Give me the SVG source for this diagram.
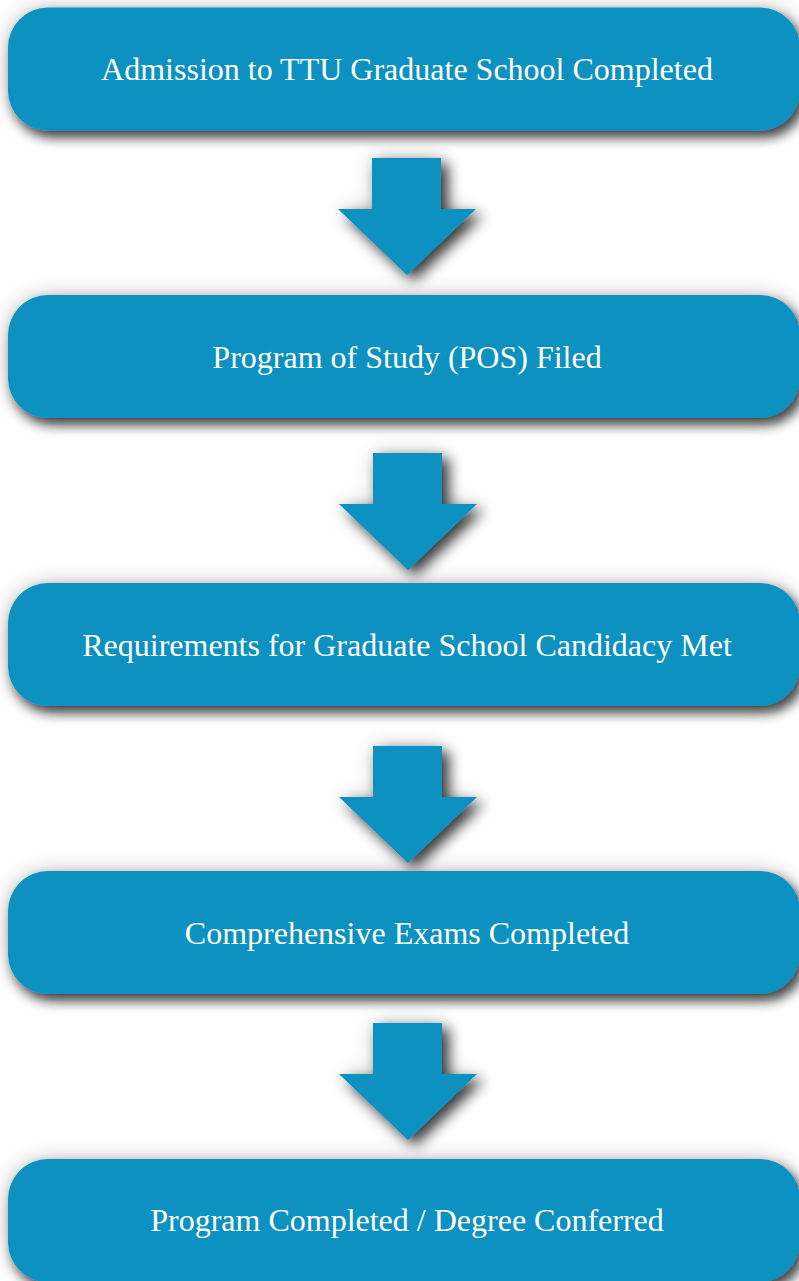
<svg xmlns="http://www.w3.org/2000/svg" width="799" height="1281" viewBox="0 0 799 1281">
  <defs>
    <filter id="shadow" x="-10%" y="-30%" width="125%" height="170%">
      <feGaussianBlur in="SourceAlpha" stdDeviation="6" result="b"/>
      <feOffset in="b" dx="5" dy="7" result="o"/>
      <feComponentTransfer in="o" result="s">
        <feFuncA type="linear" slope="0.7"/>
      </feComponentTransfer>
      <feGaussianBlur in="SourceAlpha" stdDeviation="10" result="g"/>
      <feComponentTransfer in="g" result="gs">
        <feFuncA type="linear" slope="0.25"/>
      </feComponentTransfer>
      <feMerge>
        <feMergeNode in="gs"/>
        <feMergeNode in="s"/>
        <feMergeNode in="SourceGraphic"/>
      </feMerge>
    </filter>
    <filter id="ashadow" x="-40%" y="-30%" width="190%" height="170%">
      <feGaussianBlur in="SourceAlpha" stdDeviation="7" result="b"/>
      <feOffset in="b" dx="7" dy="6" result="o"/>
      <feComponentTransfer in="o" result="s">
        <feFuncA type="linear" slope="0.75"/>
      </feComponentTransfer>
      <feGaussianBlur in="SourceAlpha" stdDeviation="10" result="g"/>
      <feComponentTransfer in="g" result="gs">
        <feFuncA type="linear" slope="0.2"/>
      </feComponentTransfer>
      <feMerge>
        <feMergeNode in="gs"/>
        <feMergeNode in="s"/>
        <feMergeNode in="SourceGraphic"/>
      </feMerge>
    </filter>
    <path id="arrow" d="M -35 0 L 34 0 L 34 51 L 69 51 L 0 117 L -69 51 L -35 51 Z"/>
  </defs>
  <style>
    .box { fill: #0891c1; filter: url(#shadow); }
    .label { fill: #ffffff; font-family: "Liberation Serif", "Times New Roman", serif; font-size: 32px; text-anchor: middle; }
    .arr { fill: #0891c1; filter: url(#ashadow); }
  </style>
  <rect width="799" height="1281" fill="#ffffff"/>

  <!-- flow arrows between the steps -->
  <g id="connectors">
    <use href="#arrow" class="arr" x="407" y="158"/>
    <use href="#arrow" class="arr" x="408" y="453"/>
    <use href="#arrow" class="arr" x="408" y="746"/>
    <use href="#arrow" class="arr" x="408" y="1023"/>
  </g>

  <g id="step1">
    <rect class="box" x="8" y="7.5" width="792" height="123" rx="40" ry="40"/>
    <text class="label" x="407" y="80">Admission to TTU Graduate School Completed</text>
  </g>
  <g id="step2">
    <rect class="box" x="8" y="295" width="792" height="123" rx="40" ry="40"/>
    <text class="label" x="407" y="368">Program of Study (POS) Filed</text>
  </g>
  <g id="step3">
    <rect class="box" x="8" y="583" width="792" height="123" rx="40" ry="40"/>
    <text class="label" x="407" y="656">Requirements for Graduate School Candidacy Met</text>
  </g>
  <g id="step4">
    <rect class="box" x="8" y="871" width="792" height="123" rx="40" ry="40"/>
    <text class="label" x="407" y="944">Comprehensive Exams Completed</text>
  </g>
  <g id="step5">
    <rect class="box" x="8" y="1159" width="792" height="123" rx="40" ry="40"/>
    <text class="label" x="407" y="1231">Program Completed / Degree Conferred</text>
  </g>
</svg>
